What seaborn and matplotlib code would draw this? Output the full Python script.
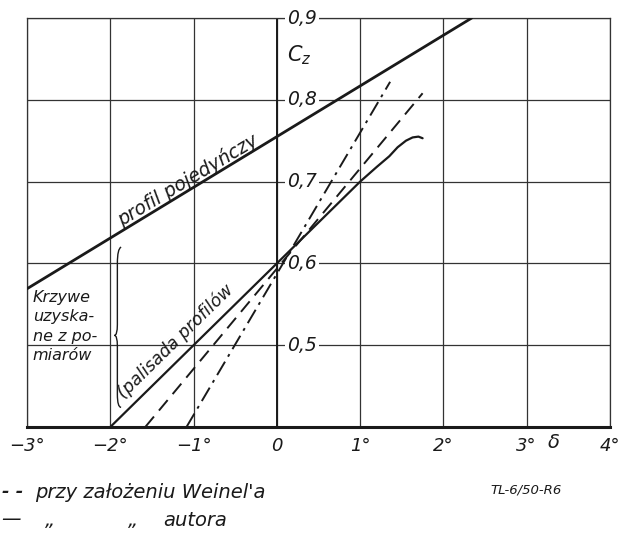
import matplotlib
matplotlib.use("Agg")
import matplotlib.pyplot as plt
import seaborn as sns
from matplotlib import font_manager
from matplotlib.path import Path
from matplotlib.patches import PathPatch

# single profile
d_single = [-3.0, 2.34]
cz_single = [0.569, 0.900]
# cascade, measured
d_pal = [-2.0, 1.0, 1.2, 1.35, 1.45, 1.55, 1.63, 1.70, 1.75]
cz_pal = [0.400, 0.700, 0.718, 0.731, 0.742, 0.750, 0.754, 0.755, 0.753]
# Weinel assumption
d_weinel = [-1.58, 1.75]
cz_weinel = [0.400, 0.808]
# author's assumption
d_autor = [-1.085, 1.36]
cz_autor = [0.400, 0.822]

xticks = [-3, -2, -1, 0, 1, 2, 3, 4]
xlabels = ["\u22123°", "\u22122°", "\u22121°", "0", "1°", "2°", "3°", "4°"]
yticks = [0.5, 0.6, 0.7, 0.8, 0.9]
ylabels = ["0,5", "0,6", "0,7", "0,8", "0,9"]

sns.set_theme(style="white")
names = {f.name for f in font_manager.fontManager.ttflist}
fam = "Liberation Sans Narrow" if "Liberation Sans Narrow" in names else "DejaVu Sans"
plt.rcParams["font.family"] = [fam, "DejaVu Sans"]
plt.rcParams["font.style"] = "italic"
plt.rcParams["mathtext.fontset"] = "custom"
plt.rcParams["mathtext.it"] = fam + ":italic"

fig = plt.figure(figsize=(6.22, 5.35), dpi=100)
ax = fig.add_axes([27 / 622, 1 - 427 / 535, (610 - 27) / 622, (427 - 18) / 535])

ink = "#1a1a1a"
sns.lineplot(x=d_single, y=cz_single, ax=ax, color=ink, lw=2.0, sort=False, estimator=None, zorder=4)
sns.lineplot(x=d_pal, y=cz_pal, ax=ax, color=ink, lw=1.6, sort=False, estimator=None, zorder=4)
sns.lineplot(x=d_weinel, y=cz_weinel, ax=ax, color=ink, lw=1.4, sort=False, estimator=None,
             linestyle=(0, (7, 4)), zorder=4)
sns.lineplot(x=d_autor, y=cz_autor, ax=ax, color=ink, lw=1.4, sort=False, estimator=None,
             linestyle=(0, (8, 3, 1.5, 3)), zorder=4)

ax.set_xlim(-3, 4)
ax.set_ylim(0.4, 0.9)
ax.set_xticks(xticks)
ax.set_xticklabels(xlabels, fontsize=13, style="italic")
ax.set_yticks([0.4] + yticks)
ax.set_yticklabels([])
ax.tick_params(axis="both", length=0, pad=7, colors=ink)
ax.grid(True, color="#333333", lw=0.9)
ax.axvline(0, color=ink, lw=1.4, zorder=2)
for s in ax.spines.values():
    s.set_color("#333333")
    s.set_linewidth(0.9)
ax.spines["bottom"].set_linewidth(2.2)
ax.spines["bottom"].set_color(ink)
ax.set_xlabel("")
ax.set_ylabel("")

for v, lab in zip(yticks, ylabels):
    ax.text(0.12, v, lab, fontsize=13.5, ha="left", va="center", color=ink, zorder=3,
            bbox=dict(facecolor="white", edgecolor="none", pad=1.5))

ax.text(0.12, 0.855, "$C_z$", fontsize=15, ha="left", va="center", color=ink)
ax.text(3.33, 0.381, "δ", fontsize=14, ha="center", va="center", color=ink, zorder=5)

ax.text(-1.07, 0.702, "profil pojedyńczy", fontsize=13.5, rotation=31, ha="center", va="center",
        color=ink, rotation_mode="anchor")
ax.text(-1.22, 0.505, "(palisada profilów", fontsize=12.5, rotation=44.5, ha="center", va="center",
        color=ink, rotation_mode="anchor")
ax.text(-2.93, 0.568, "Krzywe\nuzyska-\nne z po-\nmiarów", fontsize=11.5, ha="left", va="top",
        color=ink, linespacing=1.38)

# curly brace
xs, xh, xt = -1.915, -1.87, -1.95
verts = [(xh, 0.620), (xs, 0.618), (xs, 0.600), (xs, 0.525), (xs, 0.512), (xt, 0.512),
         (xs, 0.512), (xs, 0.499), (xs, 0.440), (xs, 0.424), (xh, 0.424)]
codes = [Path.MOVETO, Path.CURVE3, Path.CURVE3, Path.LINETO, Path.CURVE3, Path.CURVE3,
         Path.CURVE3, Path.CURVE3, Path.LINETO, Path.CURVE3, Path.CURVE3]
ax.add_patch(PathPatch(Path(verts, codes), facecolor="none", edgecolor=ink, lw=1.0, zorder=3))

y1 = 1 - 492 / 535
y2 = 1 - 520 / 535
fig.text(2 / 622, y1, "- -", fontsize=13, ha="left", va="center", color=ink, weight="bold")
fig.text(35 / 622, y1, "przy założeniu Weinel'a", fontsize=14, ha="left", va="center", color=ink)
fig.text(1 / 622, y2, "—", fontsize=14, ha="left", va="center", color=ink)
fig.text(45 / 622, y2, "„", fontsize=14, ha="left", va="center", color=ink)
fig.text(128 / 622, y2, "„", fontsize=14, ha="left", va="center", color=ink)
fig.text(163 / 622, y2, "autora", fontsize=14, ha="left", va="center", color=ink)
fig.text(490 / 622, 1 - 490 / 535, "TL-6/50-R6", fontsize=9.5, ha="left", va="center", color=ink)

fig.savefig("out.png", dpi=100, facecolor="white")
